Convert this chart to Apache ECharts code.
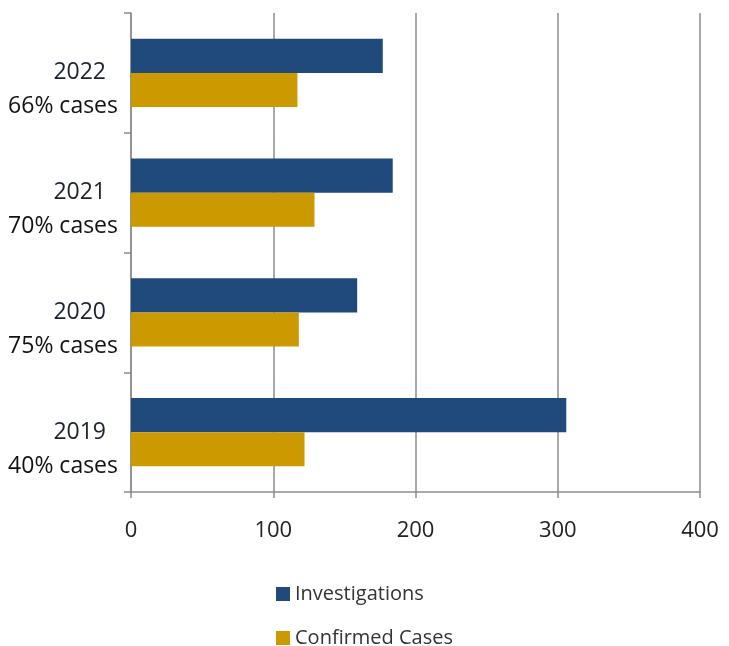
<!DOCTYPE html>
<html><head><meta charset="utf-8">
<script src="https://cdn.jsdelivr.net/npm/echarts@6/dist/echarts.min.js"></script>
<style>html,body{margin:0;padding:0;background:#fff}#c{width:729px;height:646px}</style>
</head><body><div id="c"></div>
<script>
const years = ['2019', '2020', '2021', '2022'];
const caseShares = ['40% cases', '75% cases', '70% cases', '66% cases'];
const investigations = [306, 159, 184, 177];
const confirmedCases = [122, 118, 129, 117];
const xTicks = [0, 100, 200, 300, 400];

const categories = years.map((y, i) => y + '\n' + caseShares[i]);
const legendText = { fontFamily: 'Open Sans', fontSize: 20, color: '#333' };
const chart = echarts.init(document.getElementById('c'));
chart.setOption({
  animation: false,
  grid: { left: 131, right: 29, top: 13, bottom: 154, containLabel: false },
  legend: [
    { left: 271, top: 579, itemWidth: 14, itemHeight: 14, icon: 'rect', itemGap: 10,
      data: ['Investigations'], textStyle: legendText },
    { left: 271, top: 623, itemWidth: 14, itemHeight: 14, icon: 'rect', itemGap: 10,
      data: ['Confirmed Cases'], textStyle: legendText }
  ],
  xAxis: {
    type: 'value', min: xTicks[0], max: xTicks[xTicks.length - 1], interval: 100,
    axisLine: { show: true, lineStyle: { color: '#8c8c8c', width: 1.5 } },
    axisTick: { show: true, length: 6, lineStyle: { color: '#8c8c8c', width: 1.5 } },
    splitLine: { show: true, lineStyle: { color: '#8c8c8c', width: 1.5 } },
    axisLabel: { margin: 28, fontFamily: 'Open Sans', fontSize: 22, color: '#222' }
  },
  yAxis: {
    type: 'category', data: categories,
    axisLine: { show: true, lineStyle: { color: '#8c8c8c', width: 1.5 } },
    axisTick: { show: true, length: 7, lineStyle: { color: '#8c8c8c', width: 1.5 } },
    axisLabel: { margin: 13, fontFamily: 'Open Sans', fontSize: 23, color: '#111', lineHeight: 34, align: 'right',
      formatter: v => { const p = v.split('\n'); return '\n{y|' + p[0] + '}\n{c|' + p[1] + '}'; },
      rich: {
        y: { fontFamily: 'Open Sans', fontSize: 23, color: '#1c2233', lineHeight: 34, padding: [0, 12, 0, 0] },
        c: { fontFamily: 'Open Sans', fontSize: 23, color: '#111', lineHeight: 34 }
      } }
  },
  series: [
    { name: 'Investigations', type: 'bar', data: investigations, barGap: '0%', barCategoryGap: '43%',
      itemStyle: { color: '#204a7c' } },
    { name: 'Confirmed Cases', type: 'bar', data: confirmedCases, barGap: '0%', barCategoryGap: '43%',
      itemStyle: { color: '#cc9a00' } }
  ]
});
</script></body></html>
